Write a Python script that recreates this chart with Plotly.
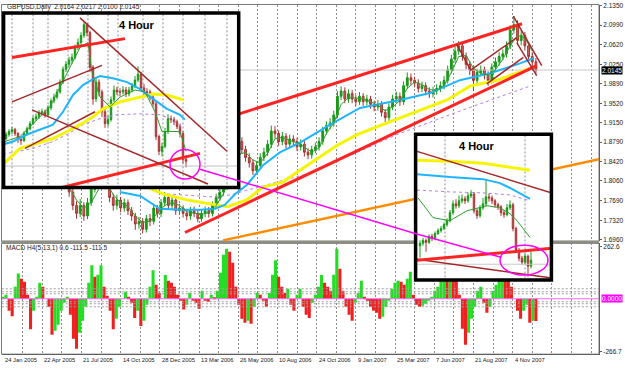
import plotly.graph_objects as go

W, H = 625, 369
FONT = "Liberation Sans"

# ------------------------------------------------------------------ labels
date_labels = ["24 Jan 2005", "22 Apr 2005", "21 Jul 2005", "14 Oct 2005", "28 Dec 2005",
               "13 Mar 2006", "26 May 2006", "10 Aug 2006", "24 Oct 2006", "9 Jan 2007",
               "25 Mar 2007", "7 Jun 2007", "21 Aug 2007", "4 Nov 2007"]
date_label_bars = list(range(0, 833, 64))
price_ticks = [2.1350, 2.0990, 2.0620, 2.0250, 1.9890, 1.9520, 1.9150, 1.8790,
               1.8420, 1.8060, 1.7690, 1.7320, 1.6960]
macd_ticks = [262.6, -266.7]
title_text = "GBPUSD,Daily  2.0164 2.0217 2.0100 2.0145"
macd_title = "MACD H4(5,13,1) 0.6 -111.5 -111.5"
bid_price = 2.0145
macd_levels = [50, 35, 25, -15, -25, -40]

# ------------------------------------------------------------------ daily candles
main_bars = list(range(102, 871, 6))
first_open = 1.810
main_close = [1.800, 1.785, 1.760, 1.745, 1.760, 1.740, 1.765, 1.790, 1.805, 1.800,
              1.820, 1.800, 1.775, 1.760, 1.770, 1.755, 1.765, 1.750, 1.740, 1.725,
              1.730, 1.715, 1.735, 1.730, 1.755, 1.745, 1.765, 1.775, 1.760, 1.770,
              1.750, 1.755, 1.745, 1.740, 1.750, 1.745, 1.735, 1.745, 1.750, 1.745,
              1.760, 1.775, 1.785, 1.795, 1.815, 1.850, 1.870, 1.880, 1.865, 1.850,
              1.840, 1.825, 1.835, 1.850, 1.860, 1.875, 1.900, 1.895, 1.880, 1.890,
              1.875, 1.885, 1.880, 1.870, 1.875, 1.860, 1.855, 1.865, 1.870, 1.880,
              1.900, 1.910, 1.915, 1.930, 1.965, 1.975, 1.960, 1.970, 1.960, 1.955,
              1.965, 1.955, 1.960, 1.950, 1.945, 1.950, 1.935, 1.925, 1.945, 1.960,
              1.965, 1.955, 1.985, 2.000, 1.995, 1.990, 1.980, 1.985, 1.975, 1.970,
              1.975, 1.980, 1.985, 1.995, 2.015, 2.035, 2.050, 2.060, 2.040, 2.025,
              2.015, 1.995, 2.010, 2.015, 2.005, 1.995, 2.020, 2.030, 2.040, 2.045,
              2.060, 2.090, 2.100, 2.070, 2.080, 2.060, 2.040, 2.030, 2.0145]
main_high = [1.818, 1.806, 1.792, 1.768, 1.772, 1.766, 1.774, 1.798, 1.815, 1.812,
             1.830, 1.826, 1.806, 1.782, 1.780, 1.776, 1.773, 1.771, 1.757, 1.746,
             1.738, 1.736, 1.742, 1.744, 1.763, 1.761, 1.772, 1.785, 1.781, 1.777,
             1.776, 1.763, 1.760, 1.752, 1.757, 1.758, 1.751, 1.752, 1.758, 1.757,
             1.767, 1.782, 1.793, 1.803, 1.824, 1.858, 1.879, 1.893, 1.888, 1.872,
             1.858, 1.847, 1.843, 1.858, 1.868, 1.883, 1.910, 1.909, 1.901, 1.898,
             1.896, 1.893, 1.892, 1.887, 1.884, 1.881, 1.867, 1.872, 1.878, 1.888,
             1.908, 1.918, 1.924, 1.938, 1.975, 1.984, 1.982, 1.978, 1.977, 1.967,
             1.973, 1.971, 1.968, 1.966, 1.957, 1.958, 1.956, 1.941, 1.952, 1.968,
             1.974, 1.972, 1.993, 2.010, 2.008, 2.002, 1.997, 1.993, 1.991, 1.982,
             1.983, 1.988, 1.993, 2.003, 2.023, 2.043, 2.058, 2.069, 2.067, 2.047,
             2.032, 2.021, 2.017, 2.023, 2.021, 2.012, 2.027, 2.038, 2.048, 2.053,
             2.068, 2.099, 2.116, 2.108, 2.089, 2.086, 2.067, 2.048, 2.037]
main_low = [1.792, 1.776, 1.751, 1.735, 1.738, 1.731, 1.734, 1.759, 1.784, 1.792,
            1.794, 1.792, 1.766, 1.750, 1.752, 1.747, 1.748, 1.742, 1.731, 1.714,
            1.716, 1.707, 1.709, 1.721, 1.724, 1.737, 1.738, 1.758, 1.752, 1.753,
            1.742, 1.743, 1.737, 1.732, 1.733, 1.738, 1.728, 1.729, 1.738, 1.737,
            1.739, 1.754, 1.768, 1.778, 1.789, 1.810, 1.843, 1.862, 1.857, 1.842,
            1.831, 1.817, 1.818, 1.828, 1.843, 1.853, 1.868, 1.886, 1.872, 1.873,
            1.867, 1.868, 1.872, 1.862, 1.863, 1.852, 1.847, 1.848, 1.858, 1.863,
            1.874, 1.893, 1.903, 1.908, 1.924, 1.958, 1.952, 1.953, 1.952, 1.947,
            1.949, 1.947, 1.948, 1.942, 1.937, 1.938, 1.927, 1.917, 1.919, 1.939,
            1.953, 1.947, 1.949, 1.979, 1.987, 1.982, 1.972, 1.973, 1.967, 1.962,
            1.963, 1.968, 1.973, 1.978, 1.989, 2.008, 2.028, 2.043, 2.032, 2.016,
            2.005, 1.975, 1.987, 2.003, 1.997, 1.985, 1.989, 2.013, 2.023, 2.033,
            2.038, 2.054, 2.083, 2.062, 2.061, 2.051, 2.032, 2.020, 2.008]

# ------------------------------------------------------------------ daily moving averages
blue_bars = [191, 224, 256, 289, 322, 346, 362, 379, 398, 424.5, 452, 485, 534, 583, 648, 697, 746, 795, 844, 865]
blue_vals = [1.7852, 1.7777, 1.7536, 1.7517, 1.7517, 1.7536, 1.7610, 1.7815, 1.7983, 1.8354,
             1.8596, 1.8782, 1.9117, 1.9433, 1.9582, 1.9712, 1.9954, 2.0084, 2.0270, 2.0363]
yellow_bars = [224, 261, 300, 343, 366, 398, 424.5, 457, 480, 545, 578, 615.5, 669, 725, 762, 806.5, 860]
yellow_vals = [1.8001, 1.7815, 1.7703, 1.7610, 1.7573, 1.7703, 1.7945, 1.8038, 1.8224, 1.8726,
               1.8931, 1.9098, 1.9340, 1.9582, 1.9842, 1.9954, 2.0177]
purple_bars = [268, 343, 370.6, 506, 643, 751, 860]
purple_vals = [1.7815, 1.7759, 1.7796, 1.8224, 1.8931, 1.9396, 1.9842]
green_bars = list(range(108, 865, 12))
green_vals = [1.795, 1.770, 1.755, 1.765, 1.790, 1.805, 1.780, 1.765, 1.758, 1.740,
              1.728, 1.730, 1.745, 1.760, 1.765, 1.760, 1.748, 1.746, 1.743, 1.746,
              1.760, 1.782, 1.820, 1.855, 1.860, 1.845, 1.840, 1.858, 1.885, 1.888,
              1.882, 1.878, 1.870, 1.860, 1.868, 1.895, 1.915, 1.950, 1.962, 1.962,
              1.960, 1.955, 1.948, 1.938, 1.945, 1.957, 1.980, 1.992, 1.987, 1.978,
              1.976, 1.985, 2.010, 2.040, 2.042, 2.018, 2.008, 2.005, 2.015, 2.035,
              2.060, 2.080, 2.075, 2.050]

# ------------------------------------------------------------------ daily trend lines
red_upper_bars, red_upper_vals = [321.6, 847.3], [1.9086, 2.1015]
red_lower_bars, red_lower_vals = [297.1, 871.3], [1.7090, 2.0228]
orange_bars, orange_vals = [359.2, 973.0], [1.6942, 1.8467]
brown_lines = [([740.7, 762.4], [2.0630, 2.0165]),
               ([789.7, 849.5], [1.9886, 2.0383]),
               ([762.4, 838.7], [2.0135, 2.0755]),
               ([833.1, 879.5], [2.1158, 2.0228]),
               ([838.7, 871.3], [2.0662, 2.0042])]
magenta_bars, magenta_vals = [321.6, 672.7], [1.8281, 1.7072]

# ------------------------------------------------------------------ MACD histogram
macd_bars = list(range(0, 871, 5))
macd = [10, 20, -60, -87, 60, 127, 100, 85, 20, -153,
        -60, 10, 80, 60, 0, -40, -180, -160, -130, -60,
        -20, 10, -80, -200, -250, -170, -110, -40, 80, 168,
        110, 120, 168, 60, 15, -60, -153, -100, -40, 0,
        35, 10, -20, -96, -60, -137, -110, -30, 60, 143,
        70, 30, 0, 119, 90, 80, 60, 20, -10, -54,
        -30, 30, -10, -20, -50, 40, -10, -15, 20, 8,
        40, 130, 220, 250, 235, 180, 60, -30, -100, -120,
        -110, -125, -40, 30, 20, -10, -40, 30, 120, 193,
        110, 60, 30, 50, -30, -60, 20, 50, -40, -80,
        -96, -20, 20, 60, 119, 80, 60, 40, 120, 250,
        150, 40, -40, -80, -110, -20, 30, 90, 10, -10,
        -40, -60, -70, -100, -90, -40, -10, 50, 80, 90,
        85, 70, 100, 135, 20, -30, -40, -35, -25, -10,
        10, 40, 60, 120, 160, 140, 170, 150, 110, 20,
        -150, -230, -170, -100, -40, 40, 60, -20, -70, -40,
        40, 70, 100, 120, 110, 90, 60, 0, -60, -100,
        -60, -30, -120, -110, -111.5]

# ------------------------------------------------------------------ left 4-hour inset
L_bars = list(range(1, 185, 3))
L_first_open = 2.0290
L_close = [2.0312, 2.0341, 2.0363, 2.0377, 2.0348, 2.0305, 2.0297, 2.0348, 2.0384, 2.0421,
           2.0457, 2.0471, 2.0500, 2.0508, 2.0486, 2.0537, 2.0587, 2.0616, 2.0653, 2.0725,
           2.0819, 2.0856, 2.0885, 2.0906, 2.0979, 2.1015, 2.1066, 2.1146, 2.1088, 2.0834,
           2.0602, 2.0725, 2.0653, 2.0508, 2.0421, 2.0450, 2.0595, 2.0667, 2.0653, 2.0653,
           2.0667, 2.0638, 2.0667, 2.0696, 2.0740, 2.0783, 2.0682, 2.0653, 2.0653, 2.0616,
           2.0566, 2.0326, 2.0218, 2.0254, 2.0363, 2.0457, 2.0450, 2.0435, 2.0399, 2.0348,
           2.0160, 2.0145]
L_high = [2.0335, 2.0360, 2.0380, 2.0395, 2.0390, 2.0360, 2.0320, 2.0365, 2.0400, 2.0440,
          2.0475, 2.0495, 2.0520, 2.0530, 2.0525, 2.0555, 2.0605, 2.0640, 2.0675, 2.0745,
          2.0840, 2.0880, 2.0910, 2.0935, 2.1000, 2.1045, 2.1090, 2.1165, 2.1160, 2.1100,
          2.0850, 2.0760, 2.0745, 2.0670, 2.0530, 2.0480, 2.0620, 2.0700, 2.0690, 2.0680,
          2.0695, 2.0690, 2.0690, 2.0720, 2.0770, 2.0840, 2.0800, 2.0710, 2.0680, 2.0670,
          2.0640, 2.0580, 2.0340, 2.0280, 2.0390, 2.0490, 2.0480, 2.0470, 2.0450, 2.0420,
          2.0365, 2.0190]
L_low = [2.0270, 2.0300, 2.0325, 2.0345, 2.0330, 2.0280, 2.0265, 2.0285, 2.0335, 2.0370,
         2.0410, 2.0440, 2.0455, 2.0480, 2.0465, 2.0470, 2.0520, 2.0570, 2.0600, 2.0640,
         2.0710, 2.0800, 2.0835, 2.0860, 2.0890, 2.0960, 2.1000, 2.1050, 2.1060, 2.0800,
         2.0560, 2.0580, 2.0620, 2.0470, 2.0390, 2.0400, 2.0435, 2.0580, 2.0630, 2.0620,
         2.0635, 2.0615, 2.0620, 2.0650, 2.0680, 2.0725, 2.0660, 2.0630, 2.0625, 2.0590,
         2.0540, 2.0300, 2.0190, 2.0180, 2.0240, 2.0345, 2.0425, 2.0410, 2.0380, 2.0320,
         2.0130, 2.0100]
L_blue_x = [1, 11, 25, 41, 51, 61, 71, 81, 91, 98, 111, 125, 138, 151, 165, 178, 183]
L_blue = [2.0268, 2.0290, 2.0341, 2.0384, 2.0413, 2.0508, 2.0631, 2.0703, 2.0747, 2.0769,
          2.0754, 2.0725, 2.0674, 2.0602, 2.0529, 2.0486, 2.0450]
L_yellow_x = [1, 18, 35, 51, 65, 78, 91, 101, 118, 138, 151, 165, 181]
L_yellow = [2.0123, 2.0239, 2.0276, 2.0312, 2.0363, 2.0413, 2.0471, 2.0529, 2.0580, 2.0616,
            2.0638, 2.0631, 2.0595]
L_purple_x = [1, 31, 51, 65, 81, 98, 115, 138, 158, 171, 181]
L_purple = [2.0196, 2.0239, 2.0290, 2.0341, 2.0413, 2.0457, 2.0486, 2.0493, 2.0486, 2.0450, 2.0384]
L_green_x = [3, 18, 33, 48, 58, 68, 78, 86, 90, 98, 108, 118, 133, 143, 153, 160, 168, 178, 184]
L_green = [2.0290, 2.0326, 2.0435, 2.0544, 2.0689, 2.0834, 2.0979, 2.1015, 2.0798, 2.0616,
           2.0544, 2.0616, 2.0667, 2.0653, 2.0508, 2.0363, 2.0363, 2.0363, 2.0218]
L_red_lines = [([10, 123], [2.0906, 2.1044]), ([58, 198], [1.9949, 2.0203])]
L_brown_lines = [([78, 225], [2.1196, 2.0218]), ([10, 100], [2.0580, 2.0848]),
                 ([23, 93], [2.0239, 2.0508]), ([30, 206], [2.0522, 1.9978])]
L_bid = 2.0110
L_grid = [10, 31, 46, 66, 86, 106, 116, 141, 161, 181, 203, 225]
L_circle_x, L_circle_y = [168, 198], [2.0015, 2.0232]

# ------------------------------------------------------------------ right 4-hour inset
R_bars = list(range(5, 117, 3))
R_first_open = 2.0300
R_close = [2.0320, 2.0344, 2.0328, 2.0378, 2.0361, 2.0402, 2.0427, 2.0444, 2.0477, 2.0510,
           2.0577, 2.0651, 2.0635, 2.0676, 2.0693, 2.0676, 2.0718, 2.0734, 2.0593, 2.0552,
           2.0618, 2.0651, 2.0709, 2.0701, 2.0676, 2.0643, 2.0626, 2.0577, 2.0560, 2.0618,
           2.0643, 2.0444, 2.0262, 2.0195, 2.0162, 2.0212, 2.0129, 2.0179]
R_high = [2.0345, 2.0365, 2.0360, 2.0395, 2.0400, 2.0420, 2.0445, 2.0465, 2.0495, 2.0530,
          2.0600, 2.0680, 2.0690, 2.0720, 2.0730, 2.0715, 2.0745, 2.0765, 2.0750, 2.0610,
          2.0640, 2.0700, 2.0860, 2.0740, 2.0720, 2.0690, 2.0660, 2.0640, 2.0600, 2.0650,
          2.0680, 2.0660, 2.0460, 2.0280, 2.0215, 2.0235, 2.0225, 2.0250]
R_low = [2.0200, 2.0300, 2.0250, 2.0315, 2.0340, 2.0345, 2.0390, 2.0410, 2.0430, 2.0460,
         2.0495, 2.0560, 2.0610, 2.0615, 2.0655, 2.0650, 2.0660, 2.0700, 2.0570, 2.0525,
         2.0535, 2.0600, 2.0630, 2.0670, 2.0650, 2.0620, 2.0600, 2.0550, 2.0535, 2.0545,
         2.0600, 2.0420, 2.0240, 2.0170, 2.0140, 2.0145, 2.0040, 2.0110]
R_yellow_x, R_yellow = [2, 35, 68, 95, 115], [2.1016, 2.1008, 2.0991, 2.0958, 2.0933]
R_blue_x, R_blue = [2, 35, 68, 85, 95, 115], [2.0900, 2.0875, 2.0858, 2.0825, 2.0784, 2.0693]
R_purple_x, R_purple = [2, 35, 68, 95, 115], [2.0767, 2.0751, 2.0743, 2.0726, 2.0676]
R_green_x = [3, 18, 35, 52, 72, 85, 95, 102, 115]
R_green = [2.0701, 2.0535, 2.0510, 2.0593, 2.0635, 2.0618, 2.0568, 2.0510, 2.0369]
R_brown_lines = [([2, 137], [2.1091, 2.0742]), ([2, 137], [2.0187, 2.0029])]
R_red_line = ([2, 137], [2.0179, 2.0278])
R_magenta = ([0, 86], [2.0402, 2.0203])
R_ellipse_x, R_ellipse_y = [85, 133], [2.0054, 2.0303]
R_grid = [30, 110]

# ------------------------------------------------------------------ styles
UP, DN, DNF = "#169a16", "#a83030", "#cc6a6a"
BLUE, YELLOW, PURPLE, GREENMA = "#1eb4ff", "#f5f500", "#b27ee6", "#2f9e2f"
RED, BROWN, ORANGE, MAGENTA = "#ff2424", "#a3282a", "#ff8c00", "#ff00ff"
GRID = "#8c8c8c"


def px_x(p):
    return p / W


def px_y(p):
    return 1 - p / H


fig = go.Figure()


def line(x, y, color, width, xa="x", ya="y", dash=None):
    fig.add_trace(go.Scatter(x=x, y=y, mode="lines", xaxis=xa, yaxis=ya, hoverinfo="skip",
                             line=dict(color=color, width=width, dash=dash)))


def candles(bars, first, hi, lo, cl, xa, ya):
    op = [first] + cl[:-1]
    fig.add_trace(go.Candlestick(x=bars, open=op, high=hi, low=lo, close=cl, xaxis=xa, yaxis=ya,
                                 whiskerwidth=0,
                                 increasing=dict(line=dict(color=UP, width=1), fillcolor=UP),
                                 decreasing=dict(line=dict(color=DN, width=1), fillcolor=DNF)))


# ---- main daily panel
line([-2, 974], [bid_price, bid_price], "#c8c8c8", 1)
candles(main_bars, first_open, main_high, main_low, main_close, "x", "y")
line(purple_bars, purple_vals, PURPLE, 1, dash="dot")
line(yellow_bars, yellow_vals, YELLOW, 3)
line(blue_bars, blue_vals, BLUE, 2)
line(green_bars, green_vals, GREENMA, 1)
line(orange_bars, orange_vals, ORANGE, 2.5)
line(red_upper_bars, red_upper_vals, RED, 3)
line(red_lower_bars, red_lower_vals, RED, 3)
for bx, by in brown_lines:
    line(bx, by, BROWN, 1.5)

# ---- MACD panel
for lv in macd_levels:
    line([-2, 974], [lv, lv], "#a0a0a0", 1, ya="y2", dash="2px,2px")
bar_colors = ["#22dd22" if (i == 0 or v >= macd[i - 1]) else "#ee2020" for i, v in enumerate(macd)]
fig.add_trace(go.Bar(x=macd_bars, y=macd, width=5, xaxis="x", yaxis="y2", hoverinfo="skip",
                     marker=dict(color=bar_colors, line=dict(width=0))))
line([-2, 974], [0, 0], "#ff66ff", 1, ya="y2")

# ---- left inset
line([-5, 245], [L_bid, L_bid], "#c0c0c0", 1, "x2", "y3")
candles(L_bars, L_first_open, L_high, L_low, L_close, "x2", "y3")
line(L_purple_x, L_purple, PURPLE, 1, "x2", "y3", dash="dot")
line(L_yellow_x, L_yellow, YELLOW, 3, "x2", "y3")
line(L_blue_x, L_blue, BLUE, 2, "x2", "y3")
line(L_green_x, L_green, GREENMA, 1, "x2", "y3")
for bx, by in L_red_lines:
    line(bx, by, RED, 3, "x2", "y3")
for bx, by in L_brown_lines:
    line(bx, by, BROWN, 1.5, "x2", "y3")

# ---- right inset
line([-5, 145], [bid_price, bid_price], "#c8c8c8", 1, "x3", "y4")
line(R_yellow_x, R_yellow, YELLOW, 3, "x3", "y4")
line(R_blue_x, R_blue, BLUE, 2, "x3", "y4")
line(R_purple_x, R_purple, PURPLE, 1, "x3", "y4", dash="dot")
line(R_green_x, R_green, GREENMA, 1, "x3", "y4")
candles(R_bars, R_first_open, R_high, R_low, R_close, "x3", "y4")
for bx, by in R_brown_lines:
    line(bx, by, BROWN, 1.5, "x3", "y4")
line(R_red_line[0], R_red_line[1], RED, 3, "x3", "y4")

# ------------------------------------------------------------------ layout
hidden = dict(showgrid=False, zeroline=False, showticklabels=False, ticks="", showline=False)
tickfont = dict(size=6.5, color="#202020", family=FONT)
fig.update_layout(
    width=W, height=H, margin=dict(l=0, r=0, t=0, b=0),
    paper_bgcolor="white", plot_bgcolor="white", showlegend=False,
    xaxis=dict(domain=[px_x(2), px_x(599)], range=[-1.63, 973], anchor="y2",
               showgrid=True, gridcolor=GRID, griddash="2px,2px", gridwidth=1,
               tick0=0, dtick=32, showticklabels=False, ticks="", zeroline=False,
               showline=True, linecolor="#606060", linewidth=1,
               rangeslider=dict(visible=False)),
    yaxis=dict(domain=[px_y(241), px_y(2)], range=[1.69228, 2.13686], side="right", anchor="x",
               tickvals=price_ticks, ticktext=["%.4f" % v for v in price_ticks],
               ticks="outside", ticklen=2, tickcolor="#606060", tickfont=tickfont,
               showgrid=False, zeroline=False, showline=True, linecolor="#606060", linewidth=1),
    yaxis2=dict(domain=[px_y(355), px_y(243)], range=[-277.5, 277.5], side="right", anchor="x",
                tickvals=macd_ticks, ticktext=["%.1f" % v for v in macd_ticks],
                ticks="outside", ticklen=2, tickcolor="#606060", tickfont=tickfont,
                showgrid=False, zeroline=False, showline=True, linecolor="#606060", linewidth=1),
    xaxis2=dict(domain=[px_x(2), px_x(240)], range=[0, 238], anchor="y3",
                rangeslider=dict(visible=False), **hidden),
    yaxis3=dict(domain=[px_y(188), px_y(8)], range=[1.9942, 2.1247], anchor="x2", **hidden),
    xaxis3=dict(domain=[px_x(415), px_x(552)], range=[0, 137], anchor="y4",
                rangeslider=dict(visible=False), **hidden),
    yaxis4=dict(domain=[px_y(280), px_y(132)], range=[2.0013, 2.1240], anchor="x3", **hidden),
)

shapes = [
    # panel frames and separator
    dict(type="rect", xref="paper", yref="paper", x0=px_x(1.5), x1=px_x(599), y0=px_y(241),
         y1=px_y(1.5), line=dict(color="#7a7a7a", width=1), layer="below"),
    dict(type="rect", xref="paper", yref="paper", x0=px_x(1.5), x1=px_x(599), y0=px_y(355),
         y1=px_y(243), line=dict(color="#7a7a7a", width=1), layer="below"),
    dict(type="line", xref="paper", yref="paper", x0=px_x(1.5), x1=px_x(599), y0=px_y(241.5),
         y1=px_y(241.5), line=dict(color="#8e8e84", width=3), layer="below"),
    # inset backgrounds (drawn inside the inset subplots, under their traces)
    dict(type="rect", xref="x2", yref="y3", x0=-5, x1=245, y0=1.98, y1=2.14,
         fillcolor="white", line=dict(width=0), layer="below"),
    dict(type="rect", xref="x3", yref="y4", x0=-5, x1=145, y0=1.99, y1=2.14,
         fillcolor="white", line=dict(width=0), layer="below"),
]
for g in L_grid:
    shapes.append(dict(type="line", xref="x2", yref="y3", x0=g, x1=g, y0=1.98, y1=2.14,
                       line=dict(color=GRID, width=1, dash="2px,2px"), layer="below"))
for g in R_grid:
    shapes.append(dict(type="line", xref="x3", yref="y4", x0=g, x1=g, y0=1.99, y1=2.14,
                       line=dict(color=GRID, width=1, dash="2px,2px"), layer="below"))
shapes += [
    # inset borders
    dict(type="rect", xref="paper", yref="paper", x0=px_x(3.6), x1=px_x(238.7), y0=px_y(186.6),
         y1=px_y(10), line=dict(color="black", width=3.5), layer="above"),
    dict(type="rect", xref="paper", yref="paper", x0=px_x(415.6), x1=px_x(551.4), y0=px_y(280),
         y1=px_y(132.7), line=dict(color="black", width=3.5), layer="above"),
    # magenta markings
    dict(type="line", xref="x", yref="y", x0=magenta_bars[0], x1=magenta_bars[1],
         y0=magenta_vals[0], y1=magenta_vals[1], line=dict(color=MAGENTA, width=1.5), layer="above"),
    dict(type="circle", xref="x2", yref="y3", x0=L_circle_x[0], x1=L_circle_x[1],
         y0=L_circle_y[0], y1=L_circle_y[1], line=dict(color=MAGENTA, width=1.5), layer="above"),
    dict(type="line", xref="x3", yref="y4", x0=R_magenta[0][0], x1=R_magenta[0][1],
         y0=R_magenta[1][0], y1=R_magenta[1][1], line=dict(color=MAGENTA, width=1.5), layer="above"),
    dict(type="circle", xref="x3", yref="y4", x0=R_ellipse_x[0], x1=R_ellipse_x[1],
         y0=R_ellipse_y[0], y1=R_ellipse_y[1], line=dict(color=MAGENTA, width=1.5), layer="above"),
]
fig.update_layout(shapes=shapes)

small = dict(size=6.5, color="#202020", family=FONT)
ann = [
    dict(x=px_x(5), y=px_y(4.5), xref="paper", yref="paper", text=title_text, showarrow=False,
         xanchor="left", yanchor="middle", font=small),
    dict(x=px_x(4), y=px_y(247.5), xref="paper", yref="paper", text=macd_title, showarrow=False,
         xanchor="left", yanchor="middle", font=small),
    dict(x=px_x(137), y=px_y(22), xref="paper", yref="paper", text="<b>4 Hour</b>", showarrow=False,
         xanchor="center", yanchor="middle", font=dict(size=11, color="black", family=FONT)),
    dict(x=px_x(477), y=px_y(145), xref="paper", yref="paper", text="<b>4 Hour</b>", showarrow=False,
         xanchor="center", yanchor="middle", font=dict(size=11, color="black", family=FONT)),
    dict(x=px_x(600.5), y=bid_price, xref="paper", yref="y", text="2.0145", showarrow=False,
         xanchor="left", yanchor="middle", bgcolor="black", borderpad=0,
         font=dict(size=6.5, color="white", family=FONT)),
    dict(x=px_x(600.5), y=0, xref="paper", yref="y2", text="0.0000", showarrow=False,
         xanchor="left", yanchor="middle", bgcolor=MAGENTA, borderpad=0,
         font=dict(size=6.5, color="white", family=FONT)),
]
for lab, b in zip(date_labels, date_label_bars):
    ann.append(dict(x=b, y=px_y(361), xref="x", yref="paper", text=lab, showarrow=False,
                    xanchor="left", yanchor="middle", font=dict(size=5.8, color="#202020", family=FONT)))
fig.update_layout(annotations=ann)

fig.write_html("out.html")
